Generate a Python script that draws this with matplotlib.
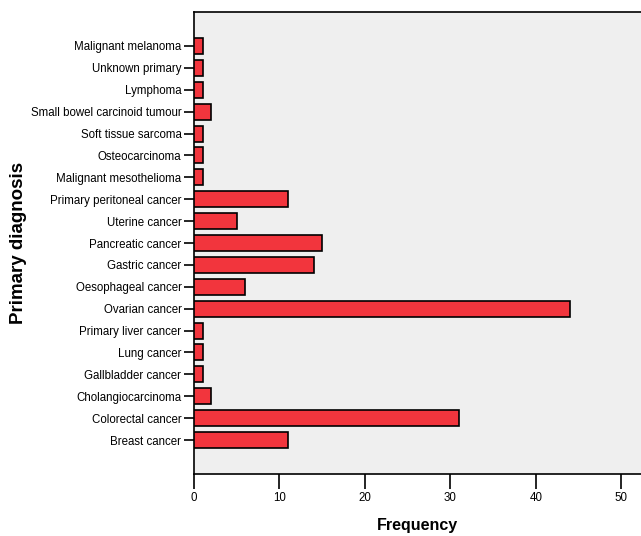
import matplotlib.pyplot as plt
from matplotlib import font_manager

# Data (bottom to top)
diagnoses = [
    "Breast cancer", "Colorectal cancer", "Cholangiocarcinoma", "Gallbladder cancer",
    "Lung cancer", "Primary liver cancer", "Ovarian cancer", "Oesophageal cancer",
    "Gastric cancer", "Pancreatic cancer", "Uterine cancer", "Primary peritoneal cancer",
    "Malignant mesothelioma", "Osteocarcinoma", "Soft tissue sarcoma",
    "Small bowel carcinoid tumour", "Lymphoma", "Unknown primary", "Malignant melanoma",
]
frequency = [11, 31, 2, 1, 1, 1, 44, 6, 14, 15, 5, 11, 1, 1, 1, 2, 1, 1, 1]
x_ticks = [0, 10, 20, 30, 40, 50]

names = {f.name for f in font_manager.fontManager.ttflist}
narrow = "Liberation Sans Narrow" if "Liberation Sans Narrow" in names else None
plt.rcParams['font.family'] = ['Liberation Sans', 'DejaVu Sans']
tick_size = 9.5 if narrow else 8.3

fig = plt.figure(figsize=(6.41, 5.36), dpi=100)
ax = fig.add_axes([194/641, 1 - 474/536, 1 - 194/641, 462/536])
ax.set_facecolor("#efefef")

y = range(len(diagnoses))
ax.barh(y, frequency, height=0.73, color="#f2353d", edgecolor="black", linewidth=1.2, zorder=3)

ax.set_xlim(0, 52.3)
ax.set_ylim(-1.55, 19.55)
ax.set_yticks(list(y))
ax.set_yticklabels(diagnoses, fontsize=tick_size, family=[narrow or 'Liberation Sans', 'DejaVu Sans'])
ax.set_xticks(x_ticks)
ax.set_xticklabels([str(t) for t in x_ticks], fontsize=tick_size, family=[narrow or 'Liberation Sans', 'DejaVu Sans'])
ax.tick_params(axis='x', length=11, width=1.2, pad=2)
ax.tick_params(axis='y', length=7, width=1.2, pad=2)

for s in ['left', 'bottom', 'top']:
    ax.spines[s].set_linewidth(1.2)
ax.spines['right'].set_visible(False)

ax.set_xlabel("Frequency", fontsize=11.5, fontweight='bold')
ax.set_ylabel("Primary diagnosis", fontsize=13.5, fontweight='bold')
ax.xaxis.set_label_coords(0.5, -(518 - 474) / 462)
ax.xaxis.label.set_va('top')
ax.yaxis.set_label_coords(-(194 - 27) / 447, 0.5)

fig.savefig("out.png", dpi=100)
